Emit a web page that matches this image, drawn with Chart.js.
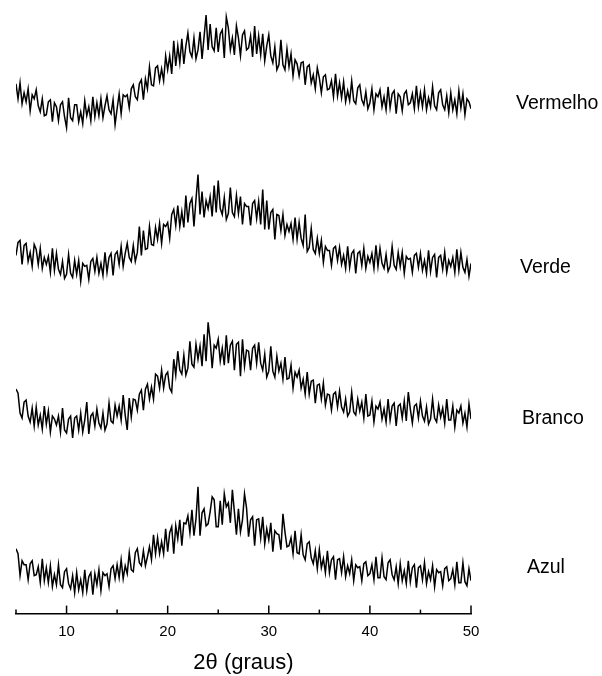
<!DOCTYPE html>
<html><head><meta charset="utf-8">
<script src="https://cdn.jsdelivr.net/npm/chart.js@4"></script>
<style>html,body{margin:0;padding:0;background:#fff}</style>
</head><body>
<canvas id="c" width="602" height="676"></canvas>
<script>
// scan grid: 2θ from 5° to 50° in 0.2° steps
const scanStart = 5, scanStep = 0.2, scanCount = 226;
const twoTheta = Array.from({length: scanCount}, (_, i) => +(scanStart + i * scanStep).toFixed(1));

const seriesNames = ['Vermelho', 'Verde', 'Branco', 'Azul'];
const xTickLabels = [10, 20, 30, 40, 50];
const xMinorTicks = [5, 15, 25, 35, 45];
// vertical level (same units as the offset traces) where each sample name sits
const labelLevels = [511, 347, 195, 46];

// stacked intensities (a.u., traces offset vertically)
const vermelho = [
531,516,532,511,522, 513,526,504,520,516, 525,509,503,516,499, 500,513,515,493,512,
508,494,510,513,498, 487,517,497,494,510, 510,493,503,491,514, 499,508,494,518,498,
512,499,516,497,509, 519,505,501,515,490, 506,521,501,520,518, 520,507,526,530,518,
515,531,535,515,536, 526,548,530,529,547, 549,534,546,534,559, 545,559,541,574,549,
569,552,576,551,569, 582,563,558,577,556, 565,583,556,578,600, 565,591,568,564,587,
563,581,585,557,598, 587,565,577,560,589, 577,559,580,584,565, 567,579,558,589,561,
579,560,581,554,569, 580,559,552,568,545, 550,575,550,545,566, 548,561,539,555,551,
539,552,553,530,548, 550,532,540,526,547, 537,522,538,540,525, 526,534,518,541,519,
532,517,533,513,524, 514,534,514,511,527, 530,515,510,523,506, 512,526,505,521,518,
525,508,518,505,528, 507,521,524,501,521, 518,504,521,524,510, 512,521,506,529,508,
522,508,525,505,517, 508,528,509,505,522, 525,510,505,519,502, 522,505,515,501,524,
507,521,500,516,513, 506];
const verde = [
359,372,374,350,369, 371,353,362,348,370, 365,350,366,346,357, 350,358,342,366,344,
361,345,340,353,336, 340,360,341,337,354, 340,354,333,351,348, 349,335,353,356,343,
357,341,351,339,362, 342,357,361,339,360, 363,350,368,348,361, 371,357,353,369,353,
362,388,359,384,365, 366,388,370,369,387, 375,391,371,390,388, 392,376,400,405,389,
409,388,403,387,419, 392,411,416,388,415, 440,400,423,397,414, 406,418,398,429,402,
434,406,400,417,395, 401,427,402,398,419, 401,418,390,411,408, 408,389,411,414,396,
413,390,425,385,414, 385,402,405,375,400, 399,384,400,379,390, 383,391,375,397,375,
392,376,369,400,363, 367,386,365,361,376, 361,374,352,368,364, 364,349,366,368,354,
367,350,359,346,368, 347,361,364,341,361, 363,349,366,346,358, 352,361,346,369,348,
366,351,346,360,343, 348,368,349,345,362, 348,362,341,358,355, 356,342,359,361,347,
361,344,354,341,364, 343,357,360,337,357, 359,345,362,342,354, 348,357,342,365,344,
362,347,342,355,338, 351];
const branco = [
225,221,201,196,212, 214,198,192,206,188, 207,189,199,185,208, 190,203,182,198,195,
189,198,182,206,184, 181,195,198,176,196, 198,184,201,182,194, 212,180,198,201,188,
205,191,186,201,184, 190,211,193,191,209, 198,208,194,219,199, 184,216,197,215,214,
204,220,224,204,225, 230,215,227,215,240, 238,226,244,226,239, 242,226,222,255,239,
263,244,240,259,239, 246,273,250,247,270, 255,268,248,280,253, 292,274,246,269,266,
275,253,266,249,279, 251,269,273,244,270, 272,238,275,248,264, 263,244,266,269,251,
272,251,244,260,237, 243,268,243,237,258, 243,251,235,257,235, 236,249,226,242,237,
244,226,235,220,242, 220,233,234,211,229, 230,215,231,209,220, 219,204,220,222,207,
223,207,202,215,198, 202,222,202,199,215, 203,212,196,220,198, 199,213,192,208,205,
212,195,205,192,215, 194,208,211,188,208, 210,196,213,193,222, 205,191,208,210,196,
213,198,193,207,190, 195,215,196,192,209, 197,206,191,215,194, 194,208,187,204,201,
208,191,201,187,210, 195];
const azul = [
65,60,38,53,49, 49,34,50,53,38, 39,47,31,55,33, 46,31,48,27,39,
29,49,29,26,42, 45,30,25,38,21, 41,24,34,21,44, 23,37,41,19,40,
29,44,23,41,38, 40,27,45,48,35, 49,36,54,35,48, 40,61,44,42,61,
65,51,48,63,48, 57,67,54,79,60, 76,60,72,60,85, 62,81,87,60,88,
75,94,68,91,90, 98,81,104,78,95, 127,78,101,105,88, 90,102,117,114,87,
87,113,89,120,107, 111,91,124,102,79, 105,82,94,120,106, 77,94,97,68,94,
95,76,97,70,85, 74,91,62,83,80, 79,64,100,82,67, 68,76,60,83,61,
60,79,59,54,70, 72,56,50,63,45, 64,46,55,41,63, 41,54,57,34,54,
55,41,57,37,48, 40,54,33,49,46, 47,33,50,52,38, 40,49,34,57,36,
36,56,37,34,51, 54,39,34,47,30, 50,33,43,30,53, 32,46,49,26,46,
48,34,51,30,42, 34,48,27,44,41, 42,28,45,47,33, 35,44,29,52,31,
31,51,32,28,45, 33];
const series = [vermelho, verde, branco, azul];

const FONT = '"Liberation Sans", Arial, Helvetica, sans-serif';

const deco = {
  id: 'deco',
  afterDraw(chart) {
    const {ctx, chartArea: a, scales: {x, y}} = chart;
    ctx.save();
    ctx.strokeStyle = '#000';
    ctx.lineWidth = 1.5;
    const tick = (v, len) => {
      const px = x.getPixelForValue(v);
      ctx.beginPath();
      ctx.moveTo(px, a.bottom);
      ctx.lineTo(px, a.bottom - len);
      ctx.stroke();
    };
    xTickLabels.forEach(v => tick(v, 8));
    xMinorTicks.forEach(v => tick(v, 4));
    ctx.fillStyle = '#000';
    ctx.font = '19.5px ' + FONT;
    ctx.textAlign = 'left';
    ctx.textBaseline = 'middle';
    const dx = [45, 49, 51, 56];
    seriesNames.forEach((n, i) => ctx.fillText(n, a.right + dx[i], y.getPixelForValue(labelLevels[i])));
    ctx.restore();
  }
};

new Chart(document.getElementById('c'), {
  type: 'line',
  data: {
    datasets: series.map((s, i) => ({
      label: seriesNames[i],
      data: s.map((v, j) => ({x: twoTheta[j], y: v})),
      borderColor: '#000',
      borderWidth: 1.5,
      pointRadius: 0,
      tension: 0,
      fill: false
    }))
  },
  options: {
    responsive: false,
    animation: false,
    devicePixelRatio: 1,
    layout: {padding: {left: 16, right: 131, top: 0, bottom: 0}},
    plugins: {legend: {display: false}, tooltip: {enabled: false}},
    scales: {
      x: {
        type: 'linear', min: 5, max: 50,
        afterBuildTicks: s => { s.ticks = xTickLabels.map(v => ({value: v})); },
        grid: {display: false, drawTicks: false},
        border: {display: true, color: '#000', width: 1.5},
        ticks: {color: '#000', padding: 9, maxRotation: 0, autoSkip: false, font: {family: FONT, size: 15}},
        title: {display: true, text: '2θ (graus)', color: '#000', font: {family: FONT, size: 22}, padding: {top: 0, bottom: 0}}
      },
      y: {display: false, min: 0, max: 615}
    }
  },
  plugins: [deco]
});
</script>
</body></html>
